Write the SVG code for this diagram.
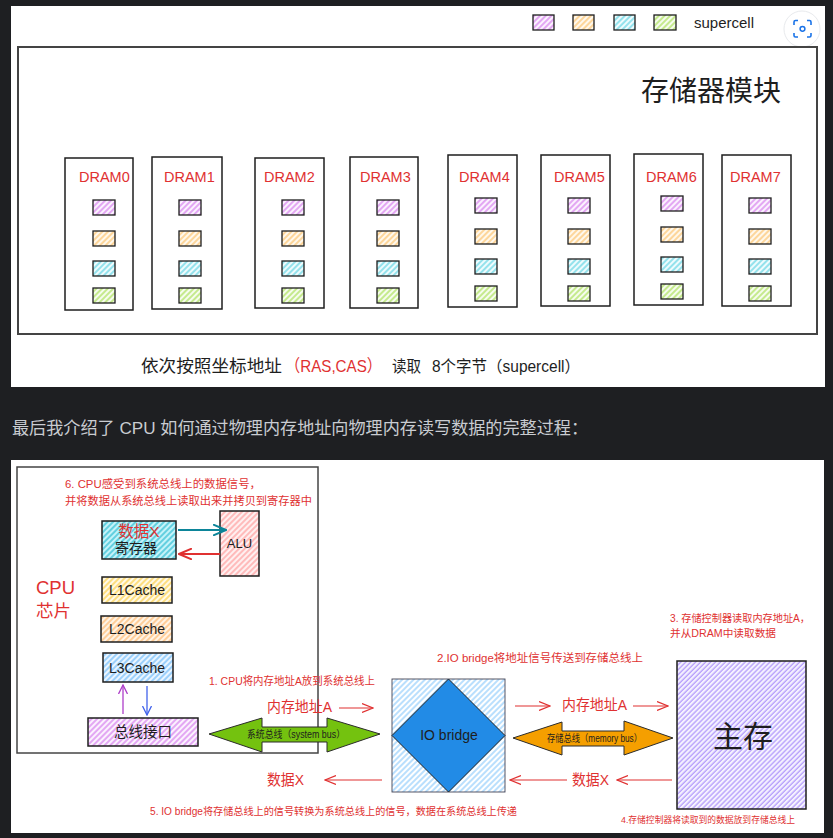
<svg xmlns="http://www.w3.org/2000/svg" width="833" height="838" viewBox="0 0 833 838">
<style>
text{font-family:"Liberation Sans","Noto Sans CJK SC",sans-serif;}
.red{fill:#e03131;}
.blk{fill:#1e1e1e;}
.box{stroke:#1e1e1e;stroke-width:1.5;}
.sc{stroke:#1e1e1e;stroke-width:1.3;}
.ra{stroke:#e03131;stroke-width:1.2;fill:none;marker-end:url(#mr);}
.dram{font-size:14.5px;fill:#e03131;}
</style>
<defs>
<pattern id="hPur" width="4" height="4" patternUnits="userSpaceOnUse" patternTransform="rotate(45)"><rect width="4" height="4" fill="#fbf2fe"/><line x1="1" y1="0" x2="1" y2="4" stroke="#cc5de8" stroke-width="1"/></pattern>
<pattern id="hOra" width="4" height="4" patternUnits="userSpaceOnUse" patternTransform="rotate(45)"><rect width="4" height="4" fill="#fff8ec"/><line x1="1" y1="0" x2="1" y2="4" stroke="#fcb54a" stroke-width="1"/></pattern>
<pattern id="hBlu" width="4" height="4" patternUnits="userSpaceOnUse" patternTransform="rotate(45)"><rect width="4" height="4" fill="#eefbfd"/><line x1="1" y1="0" x2="1" y2="4" stroke="#3bc9db" stroke-width="1"/></pattern>
<pattern id="hGre" width="4" height="4" patternUnits="userSpaceOnUse" patternTransform="rotate(45)"><rect width="4" height="4" fill="#f6fcee"/><line x1="1" y1="0" x2="1" y2="4" stroke="#94d82d" stroke-width="1"/></pattern>
<pattern id="hYel" width="4" height="4" patternUnits="userSpaceOnUse" patternTransform="rotate(45)"><rect width="4" height="4" fill="#fff9e6"/><line x1="1" y1="0" x2="1" y2="4" stroke="#fcc419" stroke-width="1"/></pattern>
<pattern id="hOr2" width="4" height="4" patternUnits="userSpaceOnUse" patternTransform="rotate(45)"><rect width="4" height="4" fill="#fff4e6"/><line x1="1" y1="0" x2="1" y2="4" stroke="#ffa94d" stroke-width="1"/></pattern>
<pattern id="hSky" width="4" height="4" patternUnits="userSpaceOnUse" patternTransform="rotate(45)"><rect width="4" height="4" fill="#eaf5ff"/><line x1="1" y1="0" x2="1" y2="4" stroke="#4dabf7" stroke-width="1"/></pattern>
<pattern id="hCya" width="4" height="4" patternUnits="userSpaceOnUse" patternTransform="rotate(45)"><rect width="4" height="4" fill="#c5f3f9"/><line x1="1" y1="0" x2="1" y2="4" stroke="#22b8cf" stroke-width="1.2"/></pattern>
<pattern id="hRed" width="4" height="4" patternUnits="userSpaceOnUse" patternTransform="rotate(45)"><rect width="4" height="4" fill="#fff0f0"/><line x1="1" y1="0" x2="1" y2="4" stroke="#ff8787" stroke-width="1"/></pattern>
<pattern id="hMem" width="3.5" height="3.5" patternUnits="userSpaceOnUse" patternTransform="rotate(45)"><rect width="4" height="4" fill="#f5f2ff"/><line x1="1" y1="0" x2="1" y2="4" stroke="#9775fa" stroke-width="0.9"/></pattern>
<pattern id="hIO" width="4" height="4" patternUnits="userSpaceOnUse" patternTransform="rotate(45)"><rect width="4" height="4" fill="#ffffff"/><line x1="1" y1="0" x2="1" y2="4" stroke="#74c0fc" stroke-width="1"/></pattern>
<marker id="mr" viewBox="0 0 12 10" refX="11" refY="5" markerWidth="12" markerHeight="10" markerUnits="userSpaceOnUse" orient="auto"><path d="M0,0.5 L11,5 L0,9.5" fill="none" stroke="#e03131" stroke-width="1.2"/></marker>
<marker id="mTeal" viewBox="0 0 14 12" refX="13" refY="6" markerWidth="14" markerHeight="12" markerUnits="userSpaceOnUse" orient="auto"><path d="M0,0.5 L13,6 L0,11.5" fill="none" stroke="#0c8599" stroke-width="2"/></marker>
<marker id="mRed2" viewBox="0 0 14 12" refX="13" refY="6" markerWidth="14" markerHeight="12" markerUnits="userSpaceOnUse" orient="auto"><path d="M0,0.5 L13,6 L0,11.5" fill="none" stroke="#e03131" stroke-width="2"/></marker>
<marker id="mPur" viewBox="0 0 10 10" refX="9" refY="5" markerWidth="10" markerHeight="10" markerUnits="userSpaceOnUse" orient="auto"><path d="M0,0.5 L9,5 L0,9.5" fill="none" stroke="#ae3ec9" stroke-width="1.3"/></marker>
<marker id="mBlu" viewBox="0 0 10 10" refX="9" refY="5" markerWidth="10" markerHeight="10" markerUnits="userSpaceOnUse" orient="auto"><path d="M0,0.5 L9,5 L0,9.5" fill="none" stroke="#4263eb" stroke-width="1.3"/></marker>
<g id="cells">
<rect class="sc" x="0" y="0" width="22" height="15" fill="url(#hPur)"/>
<rect class="sc" x="0" y="31" width="22" height="15" fill="url(#hOra)"/>
<rect class="sc" x="0" y="61" width="22" height="15" fill="url(#hBlu)"/>
<rect class="sc" x="0" y="88" width="22" height="15" fill="url(#hGre)"/>
</g>
</defs>

<rect width="833" height="838" fill="#1e1f22"/>

<!-- upper picture -->
<rect x="11" y="6" width="814" height="381" fill="#ffffff"/>
<g id="legend">
<rect class="sc" x="533" y="15" width="21" height="15" fill="url(#hPur)"/>
<rect class="sc" x="573" y="15" width="21" height="15" fill="url(#hOra)"/>
<rect class="sc" x="614" y="15" width="21" height="15" fill="url(#hBlu)"/>
<rect class="sc" x="654" y="15" width="22" height="15" fill="url(#hGre)"/>
<text x="694" y="28" font-size="15" class="blk">supercell</text>
</g>
<g id="scan-icon">
<circle cx="802" cy="29" r="18" fill="#ffffff" stroke="#e8eaed" stroke-width="1"/>
<path d="M794,25 V22 A1.5,1.5 0 0 1 795.5,20.5 H798 M807,20.5 H809.5 A1.5,1.5 0 0 1 811,22 V25 M811,33 V35.5 A1.5,1.5 0 0 1 809.5,37 H807 M798,37 H795.5 A1.5,1.5 0 0 1 794,35.5 V33" fill="none" stroke="#1a73e8" stroke-width="1.6"/>
<circle cx="802.5" cy="28.8" r="2.4" fill="none" stroke="#1a73e8" stroke-width="1.5"/>
</g>
<g id="memory-module">
<rect x="18" y="47" width="799" height="287" fill="none" stroke="#444" stroke-width="2"/>
<text x="641" y="101" font-size="28" class="blk">存储器模块</text>
</g>
<g id="dram0"><rect class="box" x="65" y="158" width="68" height="152" fill="none"/><text class="dram" x="79" y="182">DRAM0</text><use href="#cells" x="93" y="200"/></g>
<g id="dram1"><rect class="box" x="152" y="157" width="70" height="152" fill="none"/><text class="dram" x="164" y="182">DRAM1</text><use href="#cells" x="179" y="200"/></g>
<g id="dram2"><rect class="box" x="255" y="158" width="69" height="150" fill="none"/><text class="dram" x="264" y="182">DRAM2</text><use href="#cells" x="282" y="200"/></g>
<g id="dram3"><rect class="box" x="350" y="157" width="68" height="151" fill="none"/><text class="dram" x="360" y="182">DRAM3</text><use href="#cells" x="377" y="200"/></g>
<g id="dram4"><rect class="box" x="448" y="155" width="69" height="152" fill="none"/><text class="dram" x="459" y="182">DRAM4</text><use href="#cells" x="475" y="198"/></g>
<g id="dram5"><rect class="box" x="541" y="155" width="69" height="151" fill="none"/><text class="dram" x="554" y="182">DRAM5</text><use href="#cells" x="568" y="198"/></g>
<g id="dram6"><rect class="box" x="634" y="154" width="69" height="151" fill="none"/><text class="dram" x="646" y="182">DRAM6</text><use href="#cells" x="661" y="196"/></g>
<g id="dram7"><rect class="box" x="722" y="155" width="69" height="151" fill="none"/><text class="dram" x="730" y="182">DRAM7</text><use href="#cells" x="749" y="198"/></g>
<g id="caption">
<text x="141" y="372" font-size="17" class="blk" textLength="141" lengthAdjust="spacingAndGlyphs">依次按照坐标地址</text>
<text x="285" y="372" font-size="17" class="red" textLength="97" lengthAdjust="spacingAndGlyphs">（RAS,CAS）</text>
<text x="392" y="372" font-size="16" class="blk" textLength="29" lengthAdjust="spacingAndGlyphs">读取</text>
<text x="432" y="372" font-size="16" class="blk" textLength="148" lengthAdjust="spacingAndGlyphs">8个字节（supercell）</text>
</g>

<!-- page text -->
<text x="12" y="434" font-size="17" fill="#c9ccd1" textLength="576" lengthAdjust="spacingAndGlyphs">最后我介绍了 CPU 如何通过物理内存地址向物理内存读写数据的完整过程：</text>

<!-- lower picture -->
<rect x="11" y="460" width="813" height="373" fill="#ffffff"/>
<g id="cpu-chip">
<rect x="17" y="467" width="301" height="286" fill="none" stroke="#444" stroke-width="1.5"/>
<text x="36" y="594" font-size="18.5" class="red">CPU</text>
<text x="36" y="617" font-size="17.5" class="red">芯片</text>
<text x="65" y="488" font-size="11" class="red" textLength="196" lengthAdjust="spacingAndGlyphs">6. CPU感受到系统总线上的数据信号，</text>
<text x="65" y="505" font-size="11" class="red" textLength="247" lengthAdjust="spacingAndGlyphs">并将数据从系统总线上读取出来并拷贝到寄存器中</text>
</g>
<g id="register"><rect class="box" x="102" y="521" width="74" height="38" fill="url(#hCya)"/><text x="139" y="537" font-size="15.5" class="red" text-anchor="middle">数据X</text><text x="136" y="553" font-size="14" class="blk" text-anchor="middle">寄存器</text></g>
<g id="alu"><rect class="box" x="220" y="511" width="39" height="65" fill="url(#hRed)"/><text x="239.5" y="548" font-size="13" class="blk" text-anchor="middle">ALU</text></g>
<g id="l1cache"><rect class="box" x="102" y="577" width="70" height="26" fill="url(#hYel)"/><text x="137" y="595" font-size="14" class="blk" text-anchor="middle">L1Cache</text></g>
<g id="l2cache"><rect class="box" x="101" y="616" width="71" height="26" fill="url(#hOr2)"/><text x="137" y="634" font-size="14" class="blk" text-anchor="middle">L2Cache</text></g>
<g id="l3cache"><rect class="box" x="103" y="653" width="70" height="29" fill="url(#hSky)"/><text x="137" y="673" font-size="14" class="blk" text-anchor="middle">L3Cache</text></g>
<g id="bus-interface"><rect class="box" x="88" y="718" width="110" height="28" fill="url(#hPur)"/><text x="143" y="737" font-size="14.5" class="blk" text-anchor="middle">总线接口</text></g>
<g id="system-bus">
<polygon points="209,734 262,718 262,727 327,727 327,718 380,734 327,752 327,742 262,742 262,752" fill="#74c20f" stroke="#2b2b2b" stroke-width="1"/>
<text x="247" y="738" font-size="10" class="blk" textLength="98" lengthAdjust="spacingAndGlyphs">系统总线（system bus）</text>
</g>
<g id="io-bridge">
<rect x="392" y="679" width="113" height="113" fill="url(#hIO)" stroke="#445" stroke-width="0.9"/>
<polygon points="448.5,679 505,735.5 448.5,792 392,735.5" fill="#228be6" stroke="#1e1e1e" stroke-width="1"/>
<text x="449" y="740" font-size="14" class="blk" text-anchor="middle">IO bridge</text>
</g>
<g id="memory-bus">
<polygon points="513,738 562,722 562,731 624,731 624,721 673,738 624,755 624,746 562,746 562,755" fill="#f59f00" stroke="#2b2b2b" stroke-width="1"/>
<text x="547" y="742" font-size="10" class="blk" textLength="95" lengthAdjust="spacingAndGlyphs">存储总线（memory bus）</text>
</g>
<g id="main-memory"><rect class="box" x="677" y="661" width="129" height="148" fill="url(#hMem)"/><text x="743" y="747" font-size="30" class="blk" text-anchor="middle">主存</text></g>
<g id="labels">
<text x="209" y="685" font-size="11" class="red" textLength="166" lengthAdjust="spacingAndGlyphs">1. CPU将内存地址A放到系统总线上</text>
<text x="267" y="712" font-size="14.5" class="red" textLength="65" lengthAdjust="spacingAndGlyphs">内存地址A</text>
<text x="267" y="785" font-size="14.5" class="red" textLength="37" lengthAdjust="spacingAndGlyphs">数据X</text>
<text x="437" y="662" font-size="11" class="red" textLength="206" lengthAdjust="spacingAndGlyphs">2.IO bridge将地址信号传送到存储总线上</text>
<text x="670" y="622" font-size="10.5" class="red" textLength="140" lengthAdjust="spacingAndGlyphs">3. 存储控制器读取内存地址A，</text>
<text x="670" y="637" font-size="10.5" class="red" textLength="106" lengthAdjust="spacingAndGlyphs">并从DRAM中读取数据</text>
<text x="562" y="710" font-size="14.5" class="red" textLength="65" lengthAdjust="spacingAndGlyphs">内存地址A</text>
<text x="572" y="785" font-size="14.5" class="red" textLength="37" lengthAdjust="spacingAndGlyphs">数据X</text>
<text x="621" y="823" font-size="9" class="red" textLength="174" lengthAdjust="spacingAndGlyphs">4.存储控制器将读取到的数据放到存储总线上</text>
<text x="150" y="815" font-size="10.5" class="red" textLength="367" lengthAdjust="spacingAndGlyphs">5. IO bridge将存储总线上的信号转换为系统总线上的信号，数据在系统总线上传递</text>
</g>
<g id="connectors">
<line x1="178" y1="530" x2="226" y2="530" stroke="#0c8599" stroke-width="2" marker-end="url(#mTeal)"/>
<line x1="220" y1="554" x2="179" y2="554" stroke="#e03131" stroke-width="2" marker-end="url(#mRed2)"/>
<line x1="123" y1="714" x2="123" y2="685" stroke="#ae3ec9" stroke-width="1.3" marker-end="url(#mPur)"/>
<line x1="147" y1="686" x2="147" y2="715" stroke="#4263eb" stroke-width="1.3" marker-end="url(#mBlu)"/>
<line class="ra" x1="339" y1="708" x2="373" y2="708"/>
<line class="ra" x1="382" y1="780" x2="325" y2="780"/>
<line class="ra" x1="515" y1="706" x2="550" y2="706"/>
<line class="ra" x1="633" y1="706" x2="668" y2="706"/>
<line class="ra" x1="567" y1="780" x2="510" y2="780"/>
<line class="ra" x1="672" y1="780" x2="617" y2="780"/>
</g>
</svg>
